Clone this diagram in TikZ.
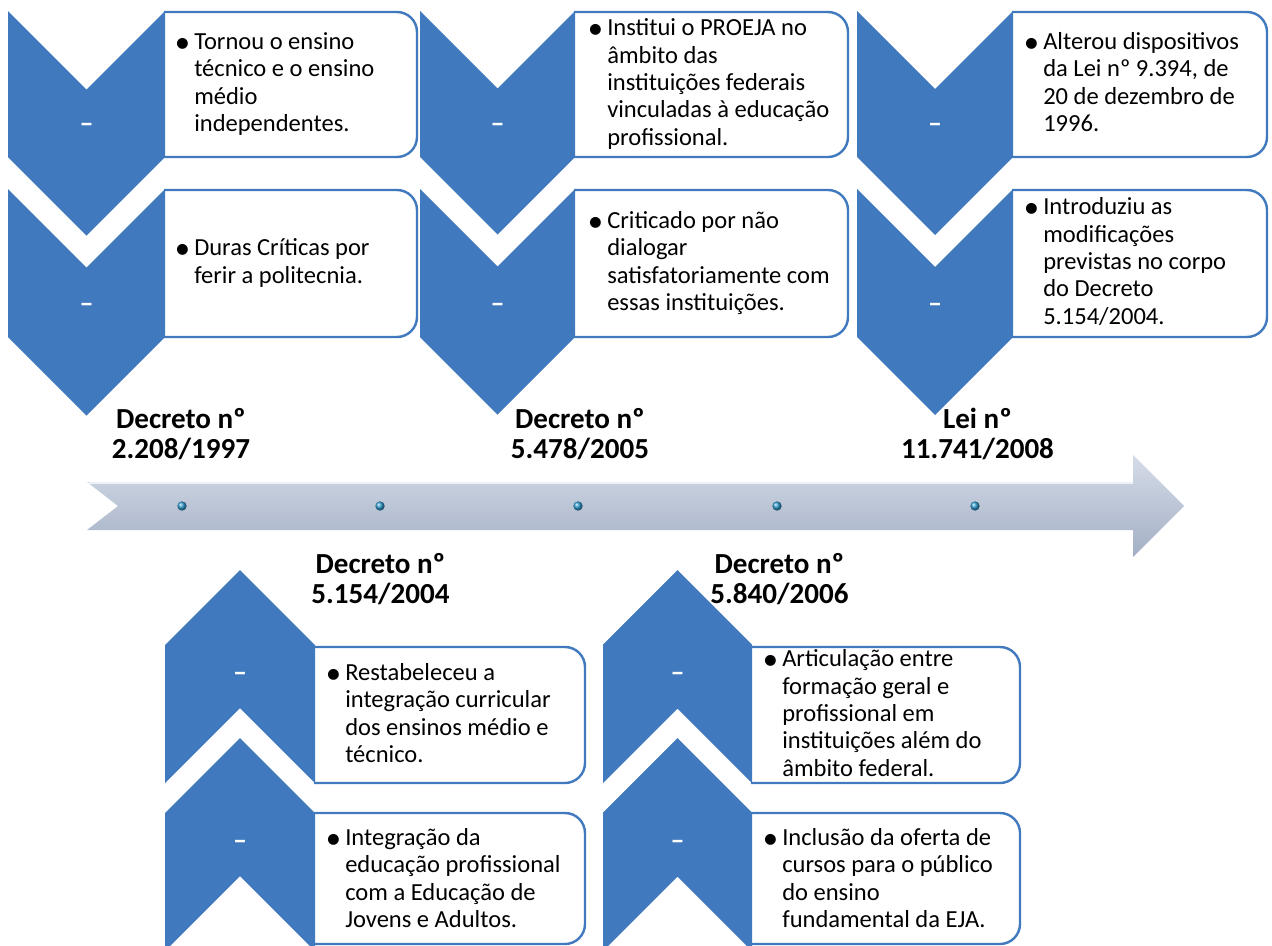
\documentclass[tikz,border=0pt]{standalone}
\usepackage{fontspec}
\setmainfont{Carlito}
\definecolor{azul}{HTML}{4079BD}
\definecolor{setaclara}{HTML}{D5DCE8}
\definecolor{setaescura}{HTML}{A3AFC5}
\newcommand{\topico}[1]{\begin{tabular}[t]{@{}l@{}l@{}}\makebox[10.5pt][l]{\hspace{-4pt}\raisebox{-2.2pt}{\fontsize{23}{23}\selectfont\textbullet}} & \begin{tabular}[t]{@{}l@{}}#1\end{tabular}\end{tabular}}
\newcommand{\rotulo}[2]{\begin{tabular}{@{}c@{}}#1\\#2\end{tabular}}

\begin{document}
\begin{tikzpicture}[x=0.75pt,y=-0.75pt,
	chev/.style={fill=azul},
	caixa/.style={draw=azul,fill=white,line width=1.8pt,rounded corners=15pt},
	texto/.style={anchor=west,inner sep=0pt,font=\fontsize{18.4}{20.6}\selectfont},
	rot/.style={inner sep=0pt,font=\bfseries\fontsize{21.8}{22.5}\selectfont},
	traco/.style={text=white,inner sep=0pt,font=\bfseries\fontsize{21}{22}\selectfont}]
\useasboundingbox (0,0) rectangle (1272,946);
\shade[top color=setaclara,bottom color=setaescura] (87,482) -- (1133,482) -- (1133,455) -- (1184,506) -- (1133,557) -- (1133,530) -- (87,530) -- (118,506) -- cycle;
\draw[white!60!setaclara,line width=1pt] (89,483) -- (1133,483);
\foreach \x [count=\i] in {182,380,578,777,975}{
	\node[circle,inner sep=0pt,minimum size=7pt,ball color=azul!75!cyan] (p\i) at (\x,506) {};
	}
\foreach \L/\R/\B in {8/165/417,420/575/848,857/1013/1267}{
	\foreach \t/\b in {11/157,189/337}{
		\filldraw[caixa] (\R-1,\t+1) -- (\B,\t+1) -- (\B,\b) -- (\R-1,\b);
		\fill[chev] (\L,\t) -- ({(\L+\R)/2},{\t+(\R-\L)/2}) -- (\R,\t) -- (\R,\b) -- ({(\L+\R)/2},{\b+(\R-\L)/2}) -- (\L,\b) -- cycle;
		\node[traco] at ({(\L+\R)/2},\b-29) {–};
		}
	}
\foreach \L/\R/\B in {165/315/585,603/752/1020}{
	\foreach \a/\t/\b/\e in {570/647/783/783,738/813/944/951}{
		\filldraw[caixa] (\R-1,\t) -- (\B,\t) -- (\B,\b) -- (\R-1,\b);
		\fill[chev] ({(\L+\R)/2},\a) -- (\R,{\a+(\R-\L)/2}) -- (\R,\e) -- ({(\L+\R)/2},{\e-(\R-\L)/2}) -- (\L,\e) -- (\L,{\a+(\R-\L)/2}) -- cycle;
		\node[traco] at ({(\L+\R)/2},\a+107) {–};
		}
	}
\node[texto] (t1a) at (180,85) {\topico{Tornou o ensino\\técnico e o ensino\\médio\\independentes.}};
\node[texto] (t1b) at (180,264) {\topico{Duras Críticas por\\ferir a politecnia.}};
\node[texto] (t2a) at (593,85) {\topico{Institui o PROEJA no\\âmbito das\\instituições federais\\vinculadas à educação\\profissional.}};
\node[texto] (t2b) at (593,264) {\topico{Criticado por não\\dialogar\\satisfatoriamente com\\essas instituições.}};
\node[texto] (t3a) at (1029,85) {\topico{Alterou dispositivos\\da Lei nº 9.394, de\\20 de dezembro de\\1996.}};
\node[texto] (t3b) at (1029,264) {\topico{Introduziu as\\modificações\\previstas no corpo\\do Decreto\\5.154/2004.}};
\node[texto] (t4a) at (331,716) {\topico{Restabeleceu a\\integração curricular\\dos ensinos médio e\\técnico.}};
\node[texto] (t4b) at (331,881) {\topico{Integração da\\educação profissional\\com a Educação de\\Jovens e Adultos.}};
\node[texto] (t5a) at (768,716) {\topico{Articulação entre\\formação geral e\\profissional em\\instituições além do\\âmbito federal.}};
\node[texto] (t5b) at (768,881) {\topico{Inclusão da oferta de\\cursos para o público\\do ensino\\fundamental da EJA.}};
\node[rot] (r1) at (181,437) {\rotulo{Decreto nº}{2.208/1997}};
\node[rot] (r2) at (580,437) {\rotulo{Decreto nº}{5.478/2005}};
\node[rot] (r3) at (977.5,437) {\rotulo{Lei nº}{11.741/2008}};
\node[rot] (r4) at (380.5,582) {\rotulo{Decreto nº}{5.154/2004}};
\node[rot] (r5) at (779.5,582) {\rotulo{Decreto nº}{5.840/2006}};
\end{tikzpicture}
\end{document}
